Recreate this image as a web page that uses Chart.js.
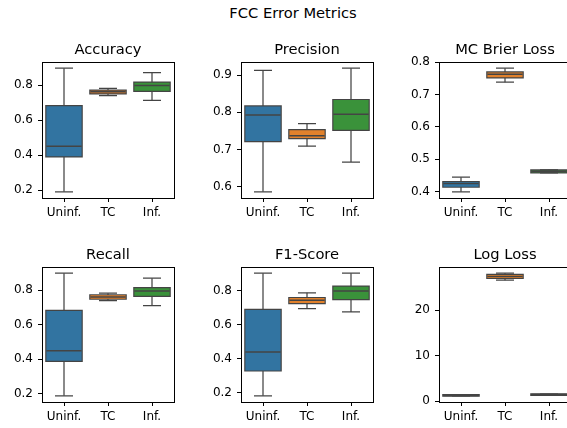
<!DOCTYPE html>
<html>
<head>
<meta charset="utf-8">
<script src="https://cdn.jsdelivr.net/npm/chart.js@4.4.1/dist/chart.umd.min.js"></script>
<style>
html, body { margin: 0; padding: 0; background: #fff; overflow: hidden; width: 567px; height: 428px; position: relative; }
canvas { position: absolute; }
#suptitle { position: absolute; left: 193px; top: 4px; width: 200px; text-align: center; font-family: 'DejaVu Sans'; font-size: 14.7px; line-height: 18px; color: #000; }
</style>
</head>
<body>
<div id="suptitle">FCC Error Metrics</div>
<script>
var groups = ["Uninf.", "TC", "Inf."];

// one row per group: [min, q1, median, q3, max]
var accuracy = [[0.191, 0.394, 0.451, 0.680, 0.897], [0.741, 0.754, 0.762, 0.768, 0.781], [0.713, 0.768, 0.798, 0.814, 0.871]];
var precision = [[0.586, 0.723, 0.793, 0.816, 0.913], [0.709, 0.731, 0.737, 0.752, 0.770], [0.666, 0.753, 0.795, 0.833, 0.919]];
var brier = [[0.400, 0.416, 0.4255, 0.430, 0.445], [0.738, 0.753, 0.762, 0.768, 0.781], [0.458, 0.460, 0.463, 0.466, 0.468]];
var recall = [[0.188, 0.392, 0.450, 0.681, 0.900], [0.740, 0.752, 0.761, 0.771, 0.784], [0.712, 0.769, 0.796, 0.813, 0.871]];
var f1 = [[0.183, 0.332, 0.439, 0.685, 0.901], [0.693, 0.726, 0.742, 0.755, 0.786], [0.674, 0.749, 0.796, 0.821, 0.901]];
var logLoss = [[1.15, 1.22, 1.25, 1.28, 1.35], [26.55, 27.05, 27.35, 27.70, 28.10], [1.35, 1.40, 1.43, 1.46, 1.52]];

var accuracyTicks = [0.2, 0.4, 0.6, 0.8];
var precisionTicks = [0.6, 0.7, 0.8, 0.9];
var brierTicks = [0.4, 0.5, 0.6, 0.7, 0.8];
var recallTicks = [0.2, 0.4, 0.6, 0.8];
var f1Ticks = [0.2, 0.4, 0.6, 0.8];
var logLossTicks = [0, 10, 20];

var panels = [
  {title: "Accuracy", rows: accuracy, ticks: accuracyTicks},
  {title: "Precision", rows: precision, ticks: precisionTicks},
  {title: "MC Brier Loss", rows: brier, ticks: brierTicks},
  {title: "Recall", rows: recall, ticks: recallTicks},
  {title: "F1-Score", rows: f1, ticks: f1Ticks},
  {title: "Log Loss", rows: logLoss, ticks: logLossTicks}
];

// axes boxes on the page: left, top, bottom
var cells = [[42, 62, 198], [241, 62, 198], [439, 62, 198], [42, 267, 402], [241, 267, 402], [439, 267, 402]];

var colors = ["#3274a1", "#e1812c", "#3a923a"];
var edge = "#444444";
var font = "DejaVu Sans";

function spine() {
  return {display: true, color: "#000", width: 1};
}

function drawPanel(p, cell) {
  var left = cell[0], top = cell[1], bottom = cell[2];
  var canvas = document.createElement("canvas");
  canvas.width = 180;
  canvas.height = 21 + (bottom - top) + 30;
  canvas.style.left = (left - 42) + "px";
  canvas.style.top = (top - 21) + "px";
  document.body.appendChild(canvas);

  var lo = Math.min.apply(null, p.rows.map(function(r){ return r[0]; }));
  var hi = Math.max.apply(null, p.rows.map(function(r){ return r[4]; }));
  var pad = (hi - lo) * 0.05;
  var boxes = p.rows.map(function(r){ return [r[1], r[3]]; });

  var pointSet = function(idx, radius, width) {
    return {
      type: "line", xAxisID: "x", yAxisID: "y",
      data: p.rows.map(function(r){ return r[idx]; }),
      showLine: false, pointStyle: "line", pointRadius: radius,
      pointBorderColor: edge, pointBorderWidth: width, borderColor: edge
    };
  };

  new Chart(canvas.getContext("2d"), {
    type: "bar",
    data: {
      labels: groups,
      datasets: [
        pointSet(2, 17.6, 1.5),
        pointSet(4, 9, 1.25),
        pointSet(0, 9, 1.25),
        // box fill
        {
          xAxisID: "x", yAxisID: "y", data: boxes,
          backgroundColor: colors, borderWidth: 0, inflateAmount: 0,
          barPercentage: 0.8, categoryPercentage: 1, grouped: false
        },
        // box outline, drawn behind the fill and grown by a pixel
        {
          xAxisID: "x", yAxisID: "y", data: boxes,
          backgroundColor: edge, borderWidth: 0, inflateAmount: 1.2,
          barPercentage: 0.8, categoryPercentage: 1, grouped: false
        },
        // whiskers
        {
          xAxisID: "x", yAxisID: "y",
          data: p.rows.map(function(r){ return [r[0], r[4]]; }),
          backgroundColor: edge, borderWidth: 0, inflateAmount: 0, barThickness: 1.25, grouped: false
        }
      ]
    },
    options: {
      responsive: false,
      animation: false,
      devicePixelRatio: 1,
      layout: {autoPadding: false, padding: {left: 0, right: 6, top: 0, bottom: 0}},
      plugins: {
        legend: {display: false},
        tooltip: {enabled: false},
        title: {
          display: true, text: p.title, color: "#000", fullSize: false,
          font: {family: font, size: 14.7, weight: "normal", lineHeight: "18px"},
          padding: {top: 0, bottom: 3}
        }
      },
      scales: {
        x: {
          type: "category", offset: true,
          grid: {display: true, offset: false, drawOnChartArea: false, tickLength: 4, tickColor: "#000", tickWidth: 1},
          border: spine(),
          ticks: {color: "#000", font: {family: font, size: 12}, padding: 4, maxRotation: 0, autoSkip: false},
          afterFit: function(s){ s.height = 30; s.paddingLeft = 0; s.paddingRight = 0; }
        },
        y: {
          type: "linear", min: lo - pad, max: hi + pad,
          grid: {display: true, drawOnChartArea: false, tickLength: 4, tickColor: "#000", tickWidth: 1},
          border: spine(),
          ticks: {color: "#000", font: {family: font, size: 12}, padding: 5, callback: function(v){ return String(v); }},
          afterBuildTicks: function(s){ s.ticks = p.ticks.map(function(v){ return {value: v}; }); },
          afterFit: function(s){ s.width = 42; s.paddingTop = 0; s.paddingBottom = 0; }
        },
        xTop: {
          type: "category", position: "top", labels: groups, offset: true,
          grid: {display: false}, ticks: {display: false}, border: spine(),
          afterFit: function(s){ s.height = 0; s.paddingLeft = 0; s.paddingRight = 0; }
        },
        yRight: {
          type: "linear", position: "right",
          grid: {display: false}, ticks: {display: false}, border: spine(),
          afterFit: function(s){ s.width = 0; s.paddingTop = 0; s.paddingBottom = 0; }
        }
      }
    }
  });
}

panels.forEach(function(p, i){ drawPanel(p, cells[i]); });
</script>
</body>
</html>
